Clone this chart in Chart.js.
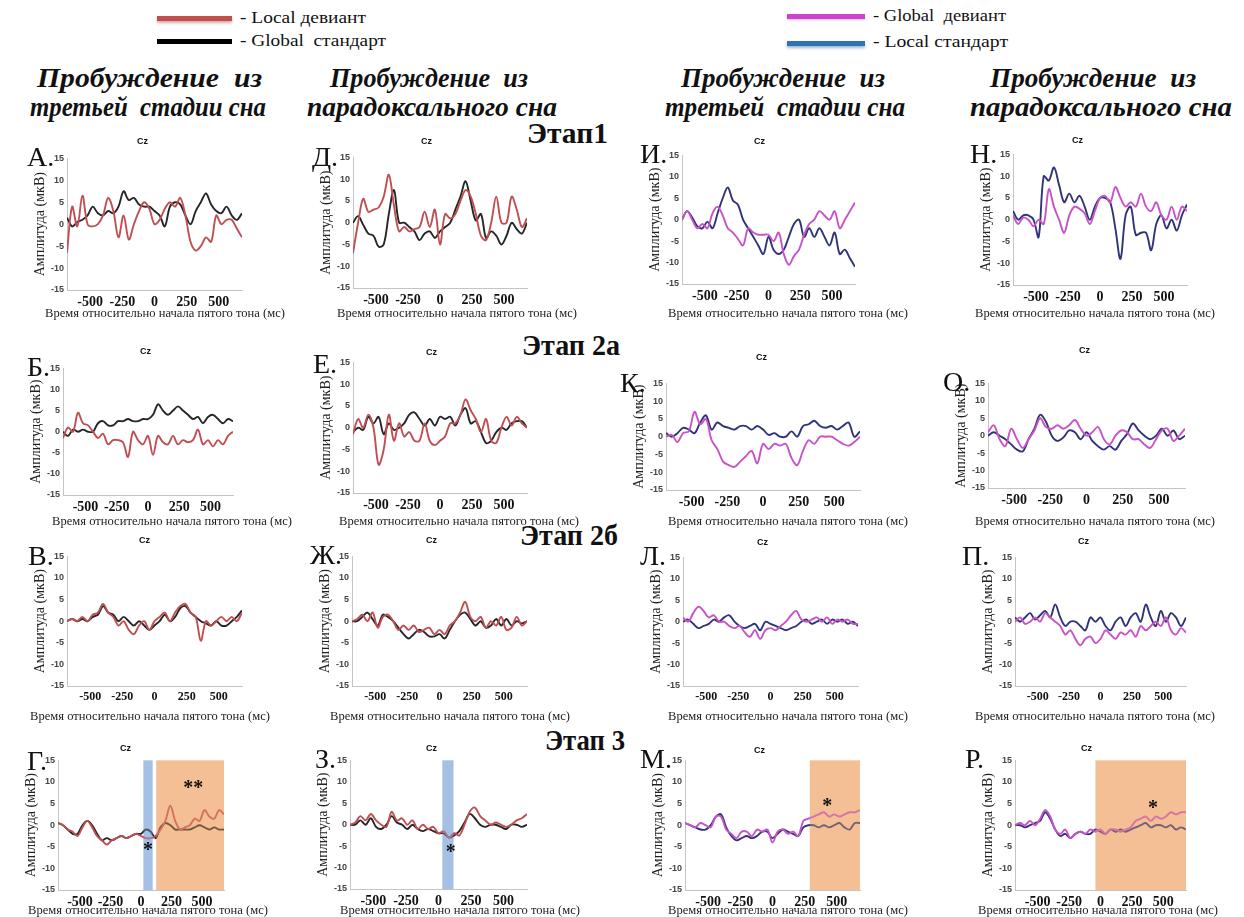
<!DOCTYPE html>
<html><head><meta charset="utf-8">
<script src="https://cdn.jsdelivr.net/npm/chart.js@4.4.1/dist/chart.umd.min.js"></script>
<style>
body{margin:0;width:1244px;height:917px;background:#fff;position:relative;overflow:hidden;font-family:"Liberation Serif","Times New Roman","DejaVu Serif",serif;color:#111;}
.abs{position:absolute;white-space:pre;display:inline-block;transform-origin:left top;}
.hdr{font-weight:bold;font-style:italic;font-size:28px;line-height:30px;}
.stage{font-weight:bold;font-size:29px;line-height:32px;}
.let{font-size:28px;line-height:30px;}
.cz{font-family:"Liberation Sans",Arial,sans-serif;font-weight:bold;font-size:9px;line-height:10px;}
.leg{font-size:16px;line-height:18px;}
.xt{font-size:13px;line-height:16px;color:#222;}
.ln{position:absolute;height:5px;}
canvas{position:absolute;}
</style></head><body>
<script>
// ---------- data ----------
const TIMES = [-680,-640,-600,-560,-520,-480,-440,-400,-360,-320,-280,-240,-200,-160,-120,-80,-40,0,40,80,120,160,200,240,280,320,360,400,440,480,520,560,600,640,680];
const X_TICKS = [-500,-250,0,250,500];
const Y_TICKS = [-15,-10,-5,0,5,10,15];
const X_TITLE = "Время относительно начала пятого тона (мс)";
const Y_TITLE = "Амплитуда (мкВ)";

// Column 1-2: Local девиант (red), Global стандарт (black)
const A_RED   = [-6.5,4,-0.5,6.5,0,-0.5,0,2,6,3,-3,2,-3.5,0,3,5,3.5,0,1,3.5,5,4,6,2,-4,-6,-5,-3,-4,2,0,1,1,-1,-3];
const A_BLACK = [1.5,-0.5,0.5,1,2,4,2.5,2,3,2.5,4,7.5,5.5,6,4.5,4,4,3,2,-0.5,4,5,4.5,2,0,3,5,7,4.5,3,2.5,4,2,1,2.5];
const B_RED   = [-1.5,1,0,4.5,2,1.5,0,-1.5,-0.5,-3,-2,-2,-2.5,-6,0,-2,-3,-1,-5.5,-1,-2.5,-3,-1,-3,-2,-2.5,-2,0.5,-3,-2,-3.5,-2,-3,-1,0];
const B_BLACK = [0,-1,0.5,0,0.5,0,0,2,2.5,1.5,1.5,2.5,2.5,3,2.5,2.5,3,3,4,6.5,5,4,5,6,5,4,3,3.5,2,3.5,4,3,2,3,2.5];
const V_RED   = [0,0.5,0,1,0,1.5,2,4,2,1,-1,0,-2,-3,-1,0,-2,0,1,2,0,2,3.5,4,2,1,-4.5,0,-1,0,1,0,1,0,2];
const V_BLACK = [0,0.5,0,0.5,0,1,1.5,3.5,2,1.5,0,1,0,-1,0,-1,-2,-1,0,1.5,0,1,3,3.5,2,1,0,-0.5,-1,0,-1,-1,0,1,2.5];
const G_RED   = [0.5,0,-1,-1.5,-2.5,-0.5,1,-0.5,-2.5,-3.5,-4.5,-3.5,-3,-2.5,-3,-2.5,-2,-2.5,-3,-3,-2.5,-1,1,4.5,1,-1,-0.5,0,1.5,1,3.5,2,1.5,3.5,2.5];
const G_BLACK = [0.5,0,-1,-2,-2,0,1,0,-2,-3.5,-3,-3.5,-3,-2.5,-3,-2.5,-2,-2,-1,-1.5,-3,-0.5,0.5,0,-1,-1,-1,-1,-0.5,0,-0.5,-1,-0.5,-1,-1];
const D_RED   = [-7,0,5.5,2.5,3,3.5,6,11,4,-2,-1,-2,-1.5,-1,2.5,-1,3,-5,2,1,2,5,7.5,6,2,-3,-4,0,6,0,0,6,3,-1,1];
const D_BLACK = [0,1.5,-0.5,-2.5,-3,-5.5,-5,2,7.5,0,0,-1,-2,-4,-2.5,-2,-3.5,-2,-1,0,3,6,9.5,5,0.5,2,-3.5,-2,-3,-5,-3,0,-1.5,-2.5,0];
const E_RED   = [-1.5,2,0,3,0,-8.5,-5,3,-3,1,-2,-1,-3,-3,1,-3,-4,-3,-2,1,1,3,6.5,4,2,-1,2,-3,-3.5,0,2.5,0.5,2.5,1,0];
const E_BLACK = [-1,0,-0.5,2.5,1,2.5,-1.5,1,-0.5,0,1,3,3.5,2,0.5,2,0.5,2.5,2,2.5,0.5,3,4.5,1,1.5,-1,-3.5,-3,-1,0,-0.5,1,1.5,1.5,0];
const ZH_RED  = [0,0.5,1.5,0,2,-1.5,1,1.5,0,-2,-1,-2,-1,-2.5,-2,-1.5,-3,-2,-3,-1,0,2,4.5,1,0,1,-1.5,0,-1,1,-2,-1.5,1,-1,0];
const ZH_BLACK= [0,0,1,2,0.5,-1,1.5,1,0,-1.5,-3,-4,-3,-2,-2.5,-3.5,-3.5,-3,-4,-2,0,1.5,2,0.5,-1,0,-1.5,-1,0.5,-1,0.5,-1,0,-0.5,0];
const Z_RED   = [0,0.5,2,1,2.5,1,0,-0.5,3,1,1.5,0,1,-1,0,-1,-0.5,-2,-1.5,-3,-2,-2.5,0,3,4,2,1,0,0.5,0,-0.5,0,1,1.5,2.5];
const Z_BLACK = [0,0,1,0,1.5,-0.5,-1,0,2,0.5,0,-1,0,-1,-1.5,-1,-1.5,-2,-2,-3,-2.5,-1.5,0.5,2.5,1.5,0,-0.5,0,0,-0.5,-1,0,0,-0.5,0];

// Column 3-4: Global девиант (magenta), Local стандарт (navy)
const I_MAG   = [0,2,0,-2,-1,-2,1.5,3,1,-2,-3,-4.5,-6,-2,-3,-3.5,-3.5,-3.5,-5,-3,-8,-10.5,-8.5,-7,-3.5,-1,0,2,1,0,2,-2,0,2,4];
const I_NAVY  = [0,2,0.5,-1.5,-2,-0.5,-2,1.5,5,7.5,4.5,3.5,0,-2,-4,-6,-8,-4,-7,-8,-7,-4,-1,0,-4,-2,-4,-2,-4,-6,-3,-8,-7,-9,-11];
const K_MAG   = [0,0.5,-1.5,1,1.5,7,3.5,5,-1,-3.5,-7,-8,-8.5,-7,-5.5,-4,-7.5,-2,-3.5,-2,-2.5,-2,-6,-8,-4,-1,-2,0,0,0,-1,-2,-2.5,-1.5,0];
const K_NAVY  = [1,0,1,2.5,2,1,4,6,2,4,3,2.5,2,3,3,2,3,2,0.5,1,0,0,1.5,0,3,3.5,4.5,3,2.5,3,2,3,4,0,1.5];
const L_MAG   = [1,0,2,3.5,2.5,1,1.5,0,0,-1,-1.5,-1,-2.5,-3.5,-2,-4,-2,-1.5,-2,-1,0,1.5,2.5,0.5,0,0.5,1,0,1,-0.5,0.5,0,0.5,-0.5,-0.5];
const L_NAVY  = [0,0.5,-0.5,-1.5,-1,-0.5,0.5,0,1,1.5,0,-1,-1.5,-1,-0.5,-2,0,-0.5,-1,-1.5,-2,-1.5,-1,0,0.5,-0.5,0,0.5,-0.5,0.5,0,0.5,-0.5,0,-1];
const M_MAG   = [0.5,0,-0.5,0.5,0,-0.5,2,2,-1,-2,-3,-1.5,-1.5,-2.5,-1,-1.5,-1,-4,-1.5,-1,-2,-1.5,-2.5,1,1.5,2,2.5,3,2,2.5,2,2.5,3,3,3.5];
const M_NAVY  = [0.5,0,-0.5,-1,-1,0,2,2.5,-0.5,-2.5,-3.5,-3,-2.5,-3,-2.5,-1.5,-1.5,-3,-2,-1,-1.5,-2,-2.5,-0.5,0,0,-0.5,0,-0.5,0,0.5,-0.5,-1,0.5,0.5];
const N_MAG   = [1,-1,0.5,0,-1.5,0,-1,7,3,0,-3,1,3,2.5,1.5,-1,2,5,5.5,4,7.5,5,3,4,3,6,3,2,4,1,0,3,0,3,2];
const N_NAVY  = [2,0,1,1,0,-4,10,9,12,8,4,6,4,5.5,3,0,3,5,5,4,-2,-9,1,3,-3.5,-3,-3,-7,-1,1,-2,0,-2.5,1,3.5];
const O_MAG   = [1,3,-1,-3,2,-1,-3.5,-1,1.5,5,2.5,2,3,2,3,4.5,2,0,1,2.5,-1,-2.5,0,1.5,1,-1,-1,-2.5,-3.5,-1,1.5,2,-1.5,0,2];
const O_NAVY  = [0,1,0,-1,-2.5,-4,-4.5,-1,2,6,4,0,-1.5,-0.5,1.5,1,-1,1,-1.5,-3,-4,-3,-4,-1.5,0.5,3.5,1.5,0,-1,0,2,0,1.5,-1,0];
const P_MAG   = [0,1,-0.5,0,1,0,2,1,0,-1,-3,-2,-4,-5.5,-4,-3.5,-5,-4,-2,-3,-4,-2.5,-3,-2,-3.5,-1,-2,-1,0,-1,1,-2,-3,-1.5,-2.5];
const P_NAVY  = [1,0,1,2,0.5,1.5,2.5,1,4,1,-1,0,0,-1,-2,1,0,1,-1,-2,0,1,-1,1,2,0,4,1,-1,2.5,0,2,1,-1,1];
const R_MAG   = [0,0.5,0,1,0,1.5,3.5,2,-1,-2,-1,-3,-2,-1.5,-2,-1,-1.5,-1,-2,-1,-1,-1.5,-1,-0.5,1,1.5,2,1,2,1.5,2,3,2.5,3,3];
const R_NAVY  = [0,0,-0.5,0,0.5,1,3,1.5,-1,-2.5,-2,-3,-2,-1.5,-2,-2,-1,-1.5,-2,-1,-1.5,-1,-1.5,-1,-0.5,0,0.5,-0.5,0,0,-0.5,0,-1,-0.5,-1];

// significance windows (ms) and marks
const SHADE_G = [[20,95,'blue'],[125,680,'orange']];
const SHADE_Z = [[30,115,'blue']];
const SHADE_M = [[290,680,'orange']];
const SHADE_R = [[-40,680,'orange']];
const STARS_G = [[428,9.6,'**'],[58,-4.8,'*']];
const STARS_Z = [[95,-5.3,'*']];
const STARS_M = [[426,5.4,'*']];
const STARS_R = [[418,5,'*']];

// ---------- styles ----------
const SERIF = '"Liberation Serif","Times New Roman","DejaVu Serif",serif';
const SANS = '"Liberation Sans",Arial,sans-serif';
const COLORS = {rb:['#bf4f53','#262626'], mn:['#c852c8','#2f3479']};
const SHADE_BASE = {blue:'#b3cae9', orange:'#f7cdab'};
const SHADE_TINT = {blue:'rgba(143,176,223,0.38)', orange:'rgba(240,168,112,0.38)'};
const WY = 35, PADL = 4, PADR = 8, PADT = 8, PADB = 2, HX = 24;

// layout: plot box [left,right,top(15),bottom(-15)], letter pos, Cz pos, x title [left, centerY]
const PANELS = [
 {L:'А.', s:[A_RED,A_BLACK], k:'rb', box:[67,242,158,290], lp:[27,158], cz:[143,141], xt:[45,313], xf:14},
 {L:'Д.', s:[D_RED,D_BLACK], k:'rb', box:[353,527,157,288], lp:[312,158], cz:[427,141], xt:[337,313], xf:14},
 {L:'И.', s:[I_MAG,I_NAVY], k:'mn', box:[682,855,155,284], lp:[640,155], cz:[760,141], xt:[668,313], xf:14},
 {L:'Н.', s:[N_MAG,N_NAVY], k:'mn', box:[1013,1187,154,285], lp:[970,155], cz:[1078,140], xt:[975,313], xf:14},
 {L:'Б.', s:[B_RED,B_BLACK], k:'rb', box:[63,233,368,495], lp:[27,368], cz:[146,351], xt:[52,521], xf:14},
 {L:'Е.', s:[E_RED,E_BLACK], k:'rb', box:[353,527,362,493], lp:[313,365], cz:[432,352], xt:[339,521], xf:14},
 {L:'К.', s:[K_MAG,K_NAVY], k:'mn', box:[666,860,383,490], lp:[620,384], cz:[762,357], xt:[668,521], xf:14},
 {L:'О.', s:[O_MAG,O_NAVY], k:'mn', box:[988,1185,383,488], lp:[943,383], cz:[1085,350], xt:[975,521], xf:14},
 {L:'В.', s:[V_RED,V_BLACK], k:'rb', box:[67,242,556,686], lp:[28,557], cz:[145,540], xt:[30,716], xf:12},
 {L:'Ж.', s:[ZH_RED,ZH_BLACK], k:'rb', box:[352,527,556,686], lp:[310,556], cz:[432,540], xt:[330,716], xf:12},
 {L:'Л.', s:[L_MAG,L_NAVY], k:'mn', box:[683,858,557,686], lp:[640,557], cz:[763,542], xt:[668,716], xf:12},
 {L:'П.', s:[P_MAG,P_NAVY], k:'mn', box:[1015,1186,557,686], lp:[962,557], cz:[1084,541], xt:[975,716], xf:12},
 {L:'Г.', s:[G_RED,G_BLACK], k:'rb', box:[58,224,760,890], lp:[27,762], cz:[126,748], xt:[28,910], xf:14, sh:SHADE_G, st:STARS_G},
 {L:'З.', s:[Z_RED,Z_BLACK], k:'rb', box:[350,527,760,889], lp:[315,760], cz:[432,748], xt:[340,910], xf:14, sh:SHADE_Z, st:STARS_Z},
 {L:'М.', s:[M_MAG,M_NAVY], k:'mn', box:[685,860,760,890], lp:[640,760], cz:[760,750], xt:[668,910], xf:14, sh:SHADE_M, st:STARS_M},
 {L:'Р.', s:[R_MAG,R_NAVY], k:'mn', box:[1015,1186,760,890], lp:[965,760], cz:[1087,748], xt:[978,910], xf:14, sh:SHADE_R, st:STARS_R}
];

// ---------- helpers ----------
function addText(txt, cls, x, y, w) {
  const el = document.createElement('span');
  el.className = 'abs ' + cls;
  el.textContent = txt;
  el.style.left = x + 'px'; el.style.top = y + 'px';
  document.body.appendChild(el);
  if (w) { const r = el.getBoundingClientRect().width; if (r > 0) el.style.transform = 'scaleX(' + (w / r) + ')'; }
  return el;
}
function addLine(x, y, w, color, shadow) {
  const d = document.createElement('div');
  d.className = 'ln'; d.style.left = x + 'px'; d.style.top = y + 'px'; d.style.width = w + 'px';
  d.style.background = color; d.style.boxShadow = shadow; document.body.appendChild(d);
}

// legends
addLine(157, 16, 75, '#c0504d', '0 2px 3px rgba(160,60,60,0.45)');
addText('- Local девиант', 'leg', 240, 9, 126);
addLine(157, 39, 75, '#000', 'none');
addText('- Global  стандарт', 'leg', 240, 32, 146);
addLine(787, 14, 78, '#cc44cc', '0 1px 2px rgba(200,80,200,0.4)');
addText('- Global  девиант', 'leg', 873, 7, 133);
addLine(787, 41, 78, '#2e74b5', '0 2px 3px rgba(40,90,150,0.45)');
addText('- Local стандарт', 'leg', 873, 33, 135);

// column headers
addText('Пробуждение  из', 'hdr', 37, 63, 225);
addText('третьей  стадии сна', 'hdr', 30, 92, 236);
addText('Пробуждение  из', 'hdr', 330, 63, 198);
addText('парадоксального сна', 'hdr', 307, 92, 250);
addText('Пробуждение  из', 'hdr', 681, 63, 204);
addText('третьей  стадии сна', 'hdr', 665, 92, 240);
addText('Пробуждение  из', 'hdr', 990, 63, 206);
addText('парадоксального сна', 'hdr', 970, 92, 262);

// stage labels
addText('Этап1', 'stage', 527, 117, 81);
addText('Этап 2а', 'stage', 522, 329, 98);
addText('Этап 2б', 'stage', 520, 519, 98);
addText('Этап 3', 'stage', 545, 724, 80);

const overlayPlugin = {
  id: 'overlay',
  beforeDatasetsDraw(chart, args, opts) {
    const {ctx, scales: {x, y}} = chart;
    const top = y.getPixelForValue(15), bot = y.getPixelForValue(-15);
    (opts.shades || []).forEach(([a, b, c]) => {
      const x1 = x.getPixelForValue(a), x2 = x.getPixelForValue(b);
      ctx.save(); ctx.fillStyle = SHADE_BASE[c]; ctx.fillRect(x1, top, x2 - x1, bot - top); ctx.restore();
    });
  },
  afterDatasetsDraw(chart, args, opts) {
    const {ctx, scales: {x, y}} = chart;
    const top = y.getPixelForValue(15), bot = y.getPixelForValue(-15);
    (opts.shades || []).forEach(([a, b, c]) => {
      const x1 = x.getPixelForValue(a), x2 = x.getPixelForValue(b);
      ctx.save(); ctx.fillStyle = SHADE_TINT[c]; ctx.fillRect(x1, top, x2 - x1, bot - top); ctx.restore();
    });
    (opts.stars || []).forEach(([a, v, t]) => {
      ctx.save(); ctx.fillStyle = '#111'; ctx.font = 'bold 20px ' + SERIF;
      ctx.textAlign = 'center'; ctx.textBaseline = 'middle';
      ctx.fillText(t, x.getPixelForValue(a), y.getPixelForValue(v) + 5); ctx.restore();
    });
  }
};

PANELS.forEach(p => {
  const [L, R, T, B] = p.box;
  const cw = (R - L) + WY + PADL + PADR;
  const ch = (B - T) + PADT + HX + PADB;
  const cv = document.createElement('canvas');
  cv.width = cw; cv.height = ch;
  cv.style.left = (L - WY - PADL) + 'px'; cv.style.top = (T - PADT) + 'px';
  cv.style.width = cw + 'px'; cv.style.height = ch + 'px';
  document.body.appendChild(cv);
  const cols = COLORS[p.k];
  new Chart(cv, {
    type: 'line',
    data: { datasets: p.s.map((vals, j) => ({
      data: TIMES.map((t, i) => ({x: t, y: vals[i]})),
      borderColor: cols[j], borderWidth: 1.9, pointRadius: 0, tension: 0.35, fill: false
    })) },
    options: {
      responsive: false, animation: false, devicePixelRatio: 1,
      layout: {padding: {left: PADL, right: PADR, top: PADT, bottom: PADB}},
      plugins: {legend: {display: false}, tooltip: {enabled: false}, title: {display: false},
                overlay: {shades: p.sh, stars: p.st}},
      scales: {
        x: {type: 'linear', min: -680, max: 680,
            grid: {display: false, drawTicks: false}, border: {display: true, color: '#c4c4c4'},
            afterBuildTicks: sc => { sc.ticks = X_TICKS.map(v => ({value: v})); },
            afterFit: sc => { sc.height = HX; },
            ticks: {font: {family: SERIF, size: p.xf, weight: 'bold'}, color: '#111', padding: 4, maxRotation: 0, autoSkip: false}},
        y: {min: -15, max: 15,
            grid: {display: false, drawTicks: false}, border: {display: true, color: '#c4c4c4'},
            afterBuildTicks: sc => { sc.ticks = Y_TICKS.map(v => ({value: v})); },
            afterFit: sc => { sc.width = WY; },
            ticks: {font: {family: SANS, size: 9, weight: 'bold'}, color: '#444', padding: 3},
            title: {display: true, text: Y_TITLE, font: {family: SERIF, size: 14}, color: '#222', padding: 0}}
      }
    },
    plugins: [overlayPlugin]
  });
  addText(p.L, 'let', p.lp[0], p.lp[1] - 16);
  addText('Cz', 'cz', p.cz[0] - 6, p.cz[1] - 5);
  addText(X_TITLE, 'xt', p.xt[0], p.xt[1] - 8, 240);
});
</script>
</body></html>
